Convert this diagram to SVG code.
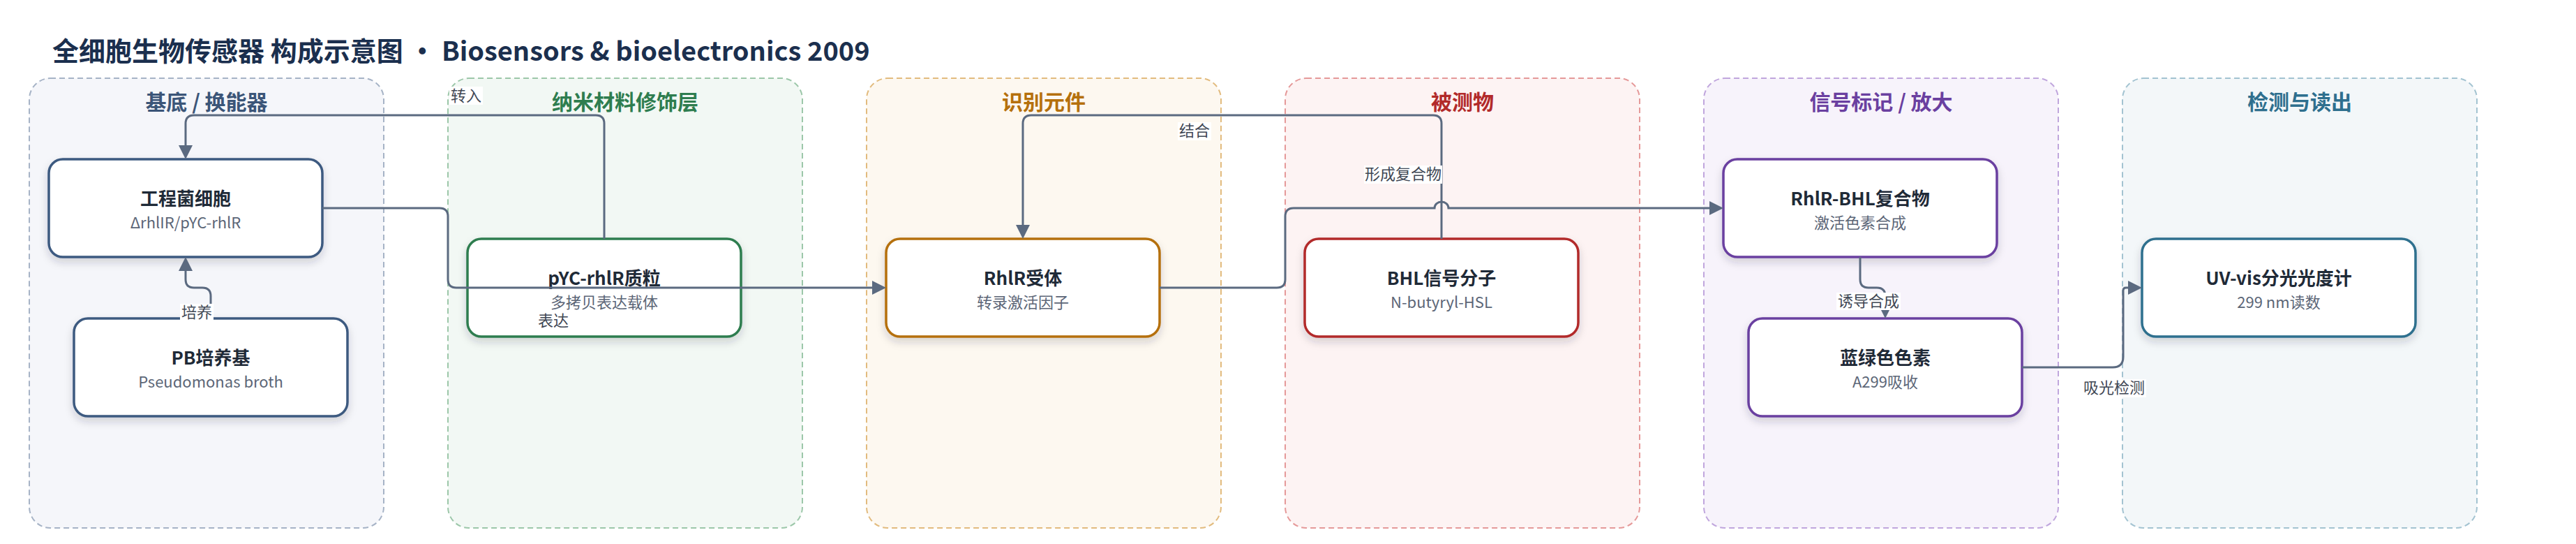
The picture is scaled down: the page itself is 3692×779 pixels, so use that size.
<svg xmlns="http://www.w3.org/2000/svg" width="3692" height="779" viewBox="0 0 3692 779">
<style>
  text { font-family: "Noto Sans CJK SC", "Noto Sans", sans-serif; }
  .title { font-size: 38px; font-weight: 700; fill: #1b2f4e; }
  .gl { font-size: 30px; font-weight: 700; text-anchor: middle; }
  .grp { stroke-width: 2; stroke-dasharray: 8 5; }
  .node { fill: #ffffff; stroke-width: 3.5; filter: url(#shadow); }
  .nt { font-size: 26px; font-weight: 700; fill: #1f2a37; text-anchor: middle; }
  .ns { font-size: 22px; fill: #5c6677; text-anchor: middle; }
  .edge { fill: none; stroke: #5b6a80; stroke-width: 3; marker-end: url(#arrow); }
  .lbg { fill: #ffffff; }
  .lt { font-size: 22px; fill: #3f4754; text-anchor: middle; }
</style>
<defs>
  <filter id="shadow" x="-10%" y="-20%" width="120%" height="150%">
    <feDropShadow dx="0" dy="6" stdDeviation="6" flood-color="#1e293b" flood-opacity="0.18"/>
  </filter>
  <marker id="arrow" markerUnits="userSpaceOnUse" viewBox="0 0 20 20" markerWidth="20" markerHeight="20" refX="0" refY="10" orient="auto">
    <path d="M0,0 L20,10 L0,20 z" fill="#5b6a80"/>
  </marker>
</defs>
<rect width="3692" height="779" fill="#ffffff"/>
<text class="title" x="75" y="87">全细胞生物传感器 构成示意图 · Biosensors &amp; bioelectronics 2009</text>

<g id="groups">
  <g id="g-substrate">
    <rect class="grp" x="42" y="112" width="508" height="644" rx="30" fill="#f5f6fa" stroke="#a6b3c6"/>
    <text class="gl" x="296" y="157" fill="#3b5578">基底 / 换能器</text>
  </g>
  <g id="g-nano">
    <rect class="grp" x="642" y="112" width="508" height="644" rx="30" fill="#f2f8f4" stroke="#9cc7a9"/>
    <text class="gl" x="896" y="157" fill="#2e7d4f">纳米材料修饰层</text>
  </g>
  <g id="g-recog">
    <rect class="grp" x="1242" y="112" width="508" height="644" rx="30" fill="#fdf8f0" stroke="#e2bb7e"/>
    <text class="gl" x="1496" y="157" fill="#b5700c">识别元件</text>
  </g>
  <g id="g-analyte">
    <rect class="grp" x="1842" y="112" width="508" height="644" rx="30" fill="#fdf3f3" stroke="#e59999"/>
    <text class="gl" x="2096" y="157" fill="#b22a2a">被测物</text>
  </g>
  <g id="g-signal">
    <rect class="grp" x="2442" y="112" width="508" height="644" rx="30" fill="#f7f3fb" stroke="#c0a6dd"/>
    <text class="gl" x="2696" y="157" fill="#6a3fa0">信号标记 / 放大</text>
  </g>
  <g id="g-detect">
    <rect class="grp" x="3042" y="112" width="508" height="644" rx="30" fill="#f3f7f9" stroke="#a3c3d1"/>
    <text class="gl" x="3296" y="157" fill="#2e6f8e">检测与读出</text>
  </g>
</g>

<g id="nodes">
  <g id="n-cell">
    <rect class="node" x="70" y="228" width="392" height="140" rx="20" stroke="#3d5a80"/>
    <text class="nt" x="266" y="294">工程菌细胞</text>
    <text class="ns" x="266" y="327">ΔrhlIR/pYC-rhlR</text>
  </g>
  <g id="n-pb">
    <rect class="node" x="106" y="456" width="392" height="140" rx="20" stroke="#3d5a80"/>
    <text class="nt" x="302" y="522">PB培养基</text>
    <text class="ns" x="302" y="555">Pseudomonas broth</text>
  </g>
  <g id="n-plasmid">
    <rect class="node" x="670" y="342" width="392" height="140" rx="20" stroke="#2e7d4f"/>
    <text class="nt" x="866" y="408">pYC-rhlR质粒</text>
    <text class="ns" x="866" y="441">多拷贝表达载体</text>
  </g>
  <g id="n-rhlr">
    <rect class="node" x="1270" y="342" width="392" height="140" rx="20" stroke="#b5700c"/>
    <text class="nt" x="1466" y="408">RhlR受体</text>
    <text class="ns" x="1466" y="441">转录激活因子</text>
  </g>
  <g id="n-bhl">
    <rect class="node" x="1870" y="342" width="392" height="140" rx="20" stroke="#b22a2a"/>
    <text class="nt" x="2066" y="408">BHL信号分子</text>
    <text class="ns" x="2066" y="441">N-butyryl-HSL</text>
  </g>
  <g id="n-complex">
    <rect class="node" x="2470" y="228" width="392" height="140" rx="20" stroke="#6a3fa0"/>
    <text class="nt" x="2666" y="294">RhlR-BHL复合物</text>
    <text class="ns" x="2666" y="327">激活色素合成</text>
  </g>
  <g id="n-pigment">
    <rect class="node" x="2506" y="456" width="392" height="140" rx="20" stroke="#6a3fa0"/>
    <text class="nt" x="2702" y="522">蓝绿色色素</text>
    <text class="ns" x="2702" y="555">A299吸收</text>
  </g>
  <g id="n-uvvis">
    <rect class="node" x="3070" y="342" width="392" height="140" rx="20" stroke="#2e6f8e"/>
    <text class="nt" x="3266" y="408">UV-vis分光光度计</text>
    <text class="ns" x="3266" y="441">299 nm读数</text>
  </g>
</g>

<g id="connectors">
  <path class="edge" d="M866 342 V177 Q866 165 854 165 H278 Q266 165 266 177 V208"/>
  <path class="edge" d="M302 456 V424 Q302 412 290 412 H278 Q266 412 266 400 V388"/>
  <path class="edge" d="M462 298 H630 Q642 298 642 310 V400 Q642 412 654 412 H1250"/>
  <path class="edge" d="M2066 342 V177 Q2066 165 2054 165 H1478 Q1466 165 1466 177 V322"/>
  <path class="edge" d="M1662 412 H1830 Q1842 412 1842 400 V310 Q1842 298 1854 298 H2056 A10 9 0 0 1 2076 298 H2450"/>
  <path class="edge" d="M2666 368 V400 Q2666 412 2678 412 H2690 Q2702 412 2702 424 V436"/>
  <path class="edge" d="M2898 526 H3028 Q3043 526 3043 511 V416 Q3043 412 3047 412 H3050"/>

  <rect class="lbg" x="644" y="124" width="48" height="26"/>
  <text class="lt" x="668" y="145">转入</text>
  <rect class="lbg" x="258" y="435" width="48" height="25"/>
  <text class="lt" x="282" y="455">培养</text>
  <text class="lt" x="793" y="467">表达</text>
  <rect class="lbg" x="1688" y="175" width="48" height="26"/>
  <text class="lt" x="1712" y="195">结合</text>
  <rect class="lbg" x="1955" y="237" width="112" height="26"/>
  <text class="lt" x="2011" y="257">形成复合物</text>
  <rect class="lbg" x="2632" y="419" width="92" height="25"/>
  <text class="lt" x="2678" y="439">诱导合成</text>
  <rect class="lbg" x="2984" y="543" width="92" height="26"/>
  <text class="lt" x="3030" y="563">吸光检测</text>
</g>
</svg>
